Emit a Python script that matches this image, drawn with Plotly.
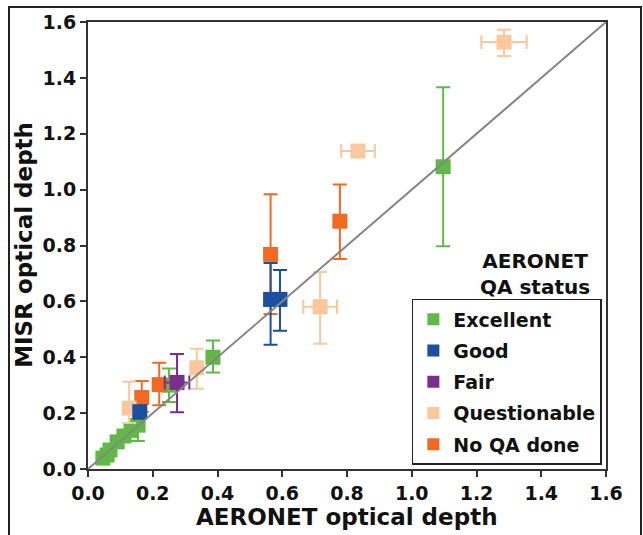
import plotly.graph_objects as go

# ---------------- data ----------------
categories = ["Excellent", "Good", "Fair", "Questionable", "No QA done"]
colors = {
    "Excellent": "#62b846",
    "Good": "#1c4f9f",
    "Fair": "#7a2e8f",
    "Questionable": "#fac89c",
    "No QA done": "#f26a22",
}

exc_x = [0.046, 0.059, 0.068, 0.090, 0.111, 0.133, 0.154, 0.250, 0.386, 1.097]
exc_y = [0.039, 0.050, 0.068, 0.097, 0.118, 0.140, 0.157, 0.300, 0.400, 1.082]
exc_hi = [0.055, 0.065, 0.085, 0.115, 0.135, 0.160, 0.175, 0.360, 0.460, 1.366]
exc_lo = [0.025, 0.035, 0.050, 0.080, 0.100, 0.115, 0.100, 0.240, 0.345, 0.797]
exc_xe = [0, 0, 0, 0, 0, 0.01, 0.02, 0, 0, 0]

good_x = [0.160, 0.564, 0.593]
good_y = [0.205, 0.607, 0.607]
good_hi = [0.220, 0.737, 0.712]
good_lo = [0.180, 0.445, 0.495]
good_xe = [0, 0, 0]

fair_x = [0.275]
fair_y = [0.310]
fair_hi = [0.412]
fair_lo = [0.203]
fair_xe = [0.038]

q_x = [0.127, 0.336, 0.717, 0.834, 1.285]
q_y = [0.218, 0.362, 0.581, 1.138, 1.528]
q_hi = [0.312, 0.430, 0.705, 1.138, 1.572]
q_lo = [0.165, 0.287, 0.448, 1.138, 1.478]
q_xe = [0, 0, 0.052, 0.052, 0.070]

nqa_x = [0.166, 0.220, 0.564, 0.778]
nqa_y = [0.256, 0.302, 0.768, 0.887]
nqa_hi = [0.315, 0.380, 0.983, 1.018]
nqa_lo = [0.205, 0.228, 0.555, 0.752]
nqa_xe = [0, 0, 0, 0]

series = {
    "Excellent": (exc_x, exc_y, exc_hi, exc_lo, exc_xe),
    "Good": (good_x, good_y, good_hi, good_lo, good_xe),
    "Fair": (fair_x, fair_y, fair_hi, fair_lo, fair_xe),
    "Questionable": (q_x, q_y, q_hi, q_lo, q_xe),
    "No QA done": (nqa_x, nqa_y, nqa_hi, nqa_lo, nqa_xe),
}

axis_min, axis_max = 0.0, 1.6
tick_vals = [0.0, 0.2, 0.4, 0.6, 0.8, 1.0, 1.2, 1.4, 1.6]
tick_text = ["0.0", "0.2", "0.4", "0.6", "0.8", "1.0", "1.2", "1.4", "1.6"]

# drawing order (bottom -> top); legend order via legendrank
draw_order = ["Excellent", "No QA done", "Questionable", "Fair", "Good"]

FONT = "DejaVu Sans"
TXT = "#111111"

fig = go.Figure()
for name in draw_order:
    xs, ys, hi, lo, xe = series[name]
    c = colors[name]
    fig.add_trace(go.Scatter(
        x=xs, y=ys, mode="markers", name=name,
        legendgroup=name,
        legendrank=categories.index(name) + 1,
        marker=dict(symbol="square", size=15, color=c, line=dict(width=0)),
        error_y=dict(type="data", symmetric=False,
                     array=[h - v for h, v in zip(hi, ys)],
                     arrayminus=[v - l for l, v in zip(lo, ys)],
                     color=c, thickness=2, width=7),
        error_x=dict(type="data", array=xe, color=c, thickness=2, width=7),
    ))

# 1:1 line
fig.add_shape(type="line", x0=axis_min, y0=axis_min, x1=axis_max, y1=axis_max,
              xref="x", yref="y", line=dict(color="#858585", width=2), layer="above")

# outer frame around the picture
fig.add_shape(type="rect", xref="paper", yref="paper",
              x0=-0.1525, x1=1.0676, y0=-0.17, y1=1.0336,
              line=dict(color="#222222", width=2), fillcolor="rgba(0,0,0,0)")

axis_common = dict(
    range=[axis_min, axis_max], tickvals=tick_vals, ticktext=tick_text,
    showgrid=False, zeroline=False, showline=True, mirror=True,
    linecolor="#333333", linewidth=2, ticks="outside", ticklen=6,
    tickwidth=2, tickcolor="#333333",
    tickfont=dict(family=FONT, size=19, color=TXT, weight="bold"),
)

fig.update_layout(
    width=643, height=535,
    margin=dict(l=88, r=37, t=22, b=66),
    paper_bgcolor="white", plot_bgcolor="white",
    xaxis=dict(**axis_common),
    yaxis=dict(**axis_common),
    showlegend=True,
    legend=dict(
        x=0.992, y=0.009, xanchor="right", yanchor="bottom",
        bgcolor="white", bordercolor="#222222", borderwidth=1.5,
        font=dict(family=FONT, size=19, color=TXT, weight="bold"),
        itemsizing="constant", tracegroupgap=3.5,
    ),
    annotations=[
        dict(text="AERONET optical depth", xref="paper", yref="paper",
             x=0.5, y=-0.107, showarrow=False, xanchor="center", yanchor="middle",
             font=dict(family=FONT, size=23, color=TXT, weight="bold")),
        dict(text="MISR optical depth", xref="paper", yref="paper",
             x=-0.124, y=0.501, showarrow=False, textangle=-90,
             xanchor="center", yanchor="middle",
             font=dict(family=FONT, size=23, color=TXT, weight="bold")),
        dict(text="AERONET<br>QA status", xref="paper", yref="paper",
             x=0.863, y=0.436, showarrow=False, xanchor="center", yanchor="middle",
             align="center",
             font=dict(family=FONT, size=20, color=TXT, weight="bold")),
    ],
)

fig.write_html("out.html",
               config={"displayModeBar": False},
               post_script="document.body.style.margin='0';document.body.style.padding='0';")
